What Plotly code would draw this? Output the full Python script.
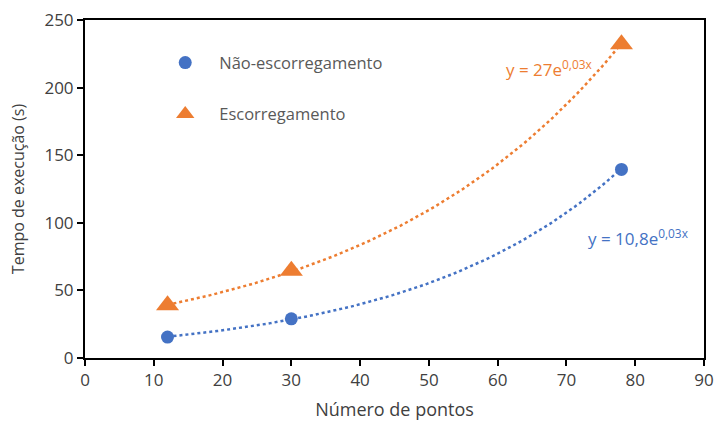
import numpy as np
import plotly.graph_objects as go

# Measured execution time vs. number of points
pontos = [12, 30, 78]
nao_escorregamento = [15.5, 29, 139.5]
escorregamento = [39, 64.5, 232]

serie_nomes = ["Não-escorregamento", "Escorregamento"]
eq_labels = ["y = 10,8e<sup>0,03x</sup>", "y = 27e<sup>0,03x</sup>"]

BLUE = "#4472C4"
ORANGE = "#ED7D31"
FONT = "Open Sans"
TEXT = "#404040"


def exp_trend(x, y, n=120):
    """Least-squares exponential trendline y = a*e^(b*x)."""
    b, ln_a = np.polyfit(np.array(x, float), np.log(np.array(y, float)), 1)
    xs = np.linspace(min(x), max(x), n)
    return xs, np.exp(ln_a) * np.exp(b * xs)


fig = go.Figure()

for vals, color in [(nao_escorregamento, BLUE), (escorregamento, ORANGE)]:
    xs, ys = exp_trend(pontos, vals)
    fig.add_trace(go.Scatter(x=xs, y=ys, mode="lines", showlegend=False,
                             line=dict(color=color, width=2.5, dash="dot"),
                             hoverinfo="skip"))

fig.add_trace(go.Scatter(x=pontos, y=nao_escorregamento, mode="markers",
                         name=serie_nomes[0], legendgroup="a",
                         marker=dict(symbol="circle", size=13, color=BLUE)))
fig.add_trace(go.Scatter(x=pontos, y=escorregamento, mode="markers",
                         name=serie_nomes[1], legendgroup="b",
                         marker=dict(symbol="triangle-up", size=20, color=ORANGE)))

fig.add_annotation(x=87.9, y=89, xref="x", yref="y", text=eq_labels[0],
                   showarrow=False, xanchor="right",
                   font=dict(family=FONT, size=17, color=BLUE))
fig.add_annotation(x=74.0, y=214, xref="x", yref="y", text=eq_labels[1],
                   showarrow=False, xanchor="right",
                   font=dict(family=FONT, size=17, color=ORANGE))

axis_common = dict(showline=True, linecolor="black", linewidth=2, mirror=True,
                   ticks="outside", ticklen=6, tickwidth=2, tickcolor="black",
                   showgrid=False, zeroline=False, automargin=False,
                   tickfont=dict(family=FONT, size=17, color=TEXT))

fig.update_xaxes(range=[0, 90], dtick=10, tick0=0,
                 title=dict(text="Número de pontos", standoff=14,
                            font=dict(family=FONT, size=18, color=TEXT)),
                 **axis_common)
fig.update_yaxes(range=[0, 250], dtick=50, tick0=0,
                 title=dict(text="Tempo de execução (s)", standoff=16,
                            font=dict(family=FONT, size=16, color=TEXT)),
                 **axis_common)

fig.update_layout(
    width=717, height=421,
    margin=dict(l=85, r=13, t=20, b=63),
    paper_bgcolor="white", plot_bgcolor="white",
    legend=dict(x=0.107, y=0.925, xanchor="left", yanchor="top",
                bgcolor="rgba(0,0,0,0)", tracegroupgap=27,
                traceorder="grouped", itemwidth=58,
                font=dict(family=FONT, size=16.5, color="#595959")),
)

fig.write_html("out.html")
